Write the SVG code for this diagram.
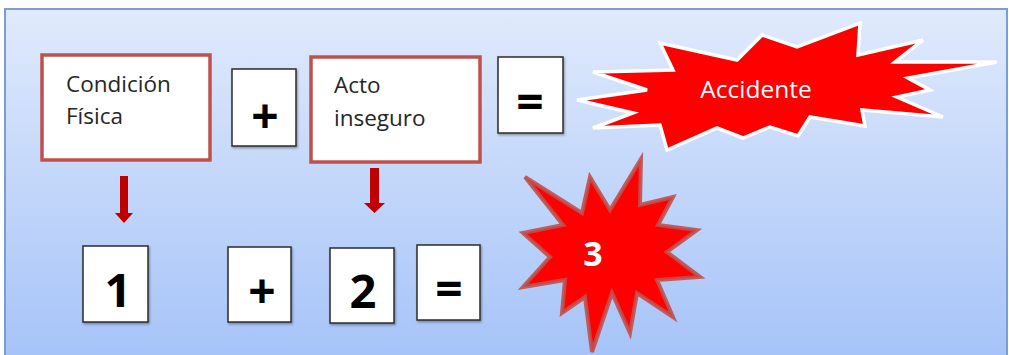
<svg xmlns="http://www.w3.org/2000/svg" width="1009" height="355" viewBox="0 0 1009 355">
  <defs>
    <linearGradient id="bg" x1="0" y1="0" x2="0" y2="1">
      <stop offset="0" stop-color="#e0eafc"/>
      <stop offset="1" stop-color="#a4c2f8"/>
    </linearGradient>
    <filter id="shadow" x="-10%" y="-10%" width="130%" height="130%">
      <feDropShadow dx="1" dy="1.5" stdDeviation="1" flood-color="#000" flood-opacity="0.35"/>
    </filter>
  </defs>
  <style>
    .term { fill: #ffffff; stroke: #c0504d; stroke-width: 3.5; }
    .op { fill: #ffffff; stroke: #2b2b2b; stroke-width: 1.5; filter: url(#shadow); }
    .label { font-family: "Open Sans", "Liberation Sans", sans-serif; font-size: 22.5px; fill: #262626; }
    .sym { font-family: "Open Sans", "Liberation Sans", sans-serif; font-weight: bold; fill: #000000; text-anchor: middle; }
    .arrow { fill: #c00000; }
  </style>

  <!-- panel -->
  <rect x="5" y="9" width="1002" height="360" fill="url(#bg)" stroke="#7a9ed4" stroke-width="2"/>

  <!-- top row -->
  <g id="condicion-fisica">
    <rect class="term" x="42" y="55" width="168" height="105"/>
    <text class="label" x="66" y="92">Condición</text>
    <text class="label" x="66" y="124">Física</text>
  </g>
  <g id="plus-top">
    <rect class="op" x="232" y="69" width="64" height="77"/>
    <text class="sym" x="265" y="133" font-size="48">+</text>
  </g>
  <g id="acto-inseguro">
    <rect class="term" x="311" y="57" width="169" height="105"/>
    <text class="label" x="334" y="93">Acto</text>
    <text class="label" x="334" y="126">inseguro</text>
  </g>
  <g id="equals-top">
    <rect class="op" x="498" y="57" width="65" height="76"/>
    <text class="sym" x="530" y="119" font-size="48">=</text>
  </g>
  <g id="accidente">
    <polygon fill="#ff0000" stroke="#ffffff" stroke-width="3.5" stroke-linejoin="miter"
      points="577,100 647,90 593,72 673,70 660,43 737,60 762,35 797,47 860,23 858,55 923,40 895,62 997,62 908,78 930,90 897,97 943,117 862,110 865,126 810,117 798,136 770,127 743,138 717,128 667,150 660,125 593,128 633,113"/>
    <text x="756" y="98" font-family="Open Sans, Liberation Sans, sans-serif" font-size="24.5" fill="#ffffff" text-anchor="middle">Accidente</text>
  </g>

  <!-- bottom row -->
  <g id="uno">
    <rect class="op" x="83" y="246" width="65" height="76"/>
    <text class="sym" x="118" y="307" font-size="47">1</text>
  </g>
  <g id="plus-bottom">
    <rect class="op" x="228" y="247" width="63" height="75"/>
    <text class="sym" x="262" y="308" font-size="48">+</text>
  </g>
  <g id="dos">
    <rect class="op" x="330" y="248" width="64" height="75"/>
    <text class="sym" x="363" y="308" font-size="47">2</text>
  </g>
  <g id="equals-bottom">
    <rect class="op" x="417" y="245" width="63" height="75"/>
    <text class="sym" x="449" y="306" font-size="48">=</text>
  </g>
  <g id="tres">
    <polygon fill="#ff0000" stroke="#c0504d" stroke-width="4" stroke-opacity="0.9" stroke-linejoin="miter"
      points="525,177 582,213 590,177 610,210 641,159 640,205 673,197 658,225 697,230 667,252 700,277 657,280 673,317 637,293 630,333 612,293 592,352 585,297 562,313 565,280 523,287 550,257 523,233 563,225"/>
    <text x="593" y="266" font-family="Open Sans, Liberation Sans, sans-serif" font-weight="bold" font-size="34" fill="#ffffff" text-anchor="middle">3</text>
  </g>

  <!-- connectors -->
  <g id="connectors">
    <path class="arrow" d="M120,176 H128 V213 H133 L124,223 L115,213 H120 Z"/>
    <path class="arrow" d="M370,168 H379 V203 H385 L374.5,213 L364,203 H370 Z"/>
  </g>
</svg>
